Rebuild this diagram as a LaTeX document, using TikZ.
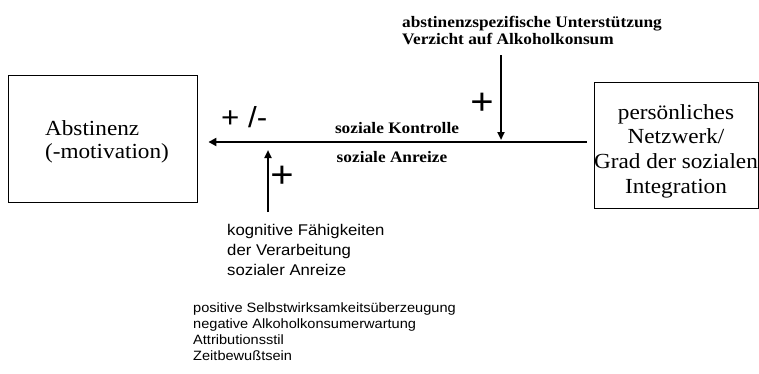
\documentclass[tikz,border=0pt]{standalone}
\usepackage{fontspec}
\setmainfont{Liberation Serif}[FakeStretch=1.08]
\setsansfont{Liberation Sans}[FakeStretch=1.08]
\usetikzlibrary{arrows.meta}

\begin{document}
\begin{tikzpicture}[x=1pt, y=-1pt,
    kasten/.style={draw, line width=.8pt, inner sep=0pt},
    kastentext/.style={inner sep=0pt, font=\fontsize{21.5}{23.5}\selectfont},
    fett/.style={inner sep=0pt, font=\fontsize{16}{17}\selectfont\bfseries},
    serifenlos/.style={inner sep=0pt, align=left},
    zeichen/.style={inner sep=0pt, font=\fontsize{37}{37}\selectfont\sffamily},
    hauptpfeil/.style={line width=2.8pt, -{Triangle[length=8pt, width=8pt]}},
    pfeil/.style={line width=2pt, -{Triangle[length=8pt, width=7pt]}}]
    \useasboundingbox (0,0) rectangle (759,373);
    % Kaesten
    \node[kasten, minimum width=189pt, minimum height=127pt] (abst) at (102.5,138.5) {};
    \node[kastentext, align=left] (abstText) at (107,142) {Abstinenz\\(-motivation)};
    \node[kasten, minimum width=164pt, minimum height=126pt] (netz) at (676,145) {};
    \node[kastentext, align=center, font=\fontsize{21.5}{24.7}\selectfont]
        (netzText) at (676,151) {persönliches\\Netzwerk/\\Grad der sozialen\\Integration};
    % Texte
    \node[fett, anchor=north west, align=left] (stuetz) at (402,16)
        {abstinenzspezifische Unterstützung\\Verzicht auf Alkoholkonsum};
    \node[fett, anchor=base] (kontrolle) at (397,133) {soziale Kontrolle};
    \node[fett, anchor=base] (anreize) at (392,162) {soziale Anreize};
    \node[serifenlos, anchor=north west, font=\fontsize{15.5}{20}\selectfont\sffamily]
        (kogn) at (227,224) {kognitive Fähigkeiten\\der Verarbeitung\\sozialer Anreize};
    \node[serifenlos, anchor=north west, font=\fontsize{13.5}{16}\selectfont\sffamily]
        (selbst) at (193,303) {positive Selbstwirksamkeitsüberzeugung\\negative Alkoholkonsumerwartung\\Attributionsstil\\Zeitbewußtsein};
    \node[inner sep=0pt, anchor=base west, font=\fontsize{29}{29}\selectfont\sffamily]
        (pm) at (221,127) {+ /-};
    \node[zeichen] (plusO) at (482,104) {+};
    \node[zeichen] (plusU) at (282,177) {+};
    % Pfeile
    \coordinate (kontr) at (400,142);
    \coordinate (stuetzEnde) at (501,55);
    \coordinate (kognEnde) at (268,212);
    \draw[hauptpfeil, shorten <=7pt, shorten >=11pt] (netz.west |- kontr) -- (abst.east |- kontr);
    \draw[pfeil, shorten >=2pt] (stuetzEnde) -- (stuetzEnde |- kontr);
    \draw[pfeil, shorten >=8pt] (kognEnde) -- (kognEnde |- kontr);
\end{tikzpicture}
\end{document}
